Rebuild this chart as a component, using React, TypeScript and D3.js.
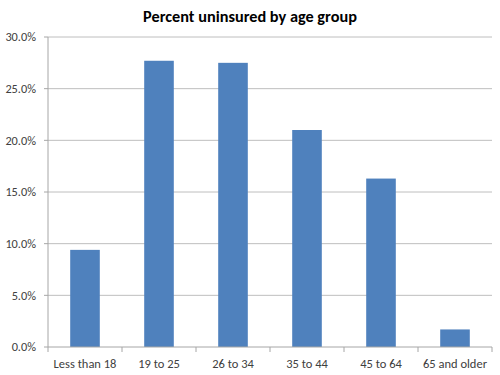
import React from "react";
import * as d3 from "d3";

const categories = ["Less than 18", "19 to 25", "26 to 34", "35 to 44", "45 to 64", "65 and older"];
const values = [9.4, 27.7, 27.5, 21.0, 16.3, 1.7];
const yTicks = [0, 5, 10, 15, 20, 25, 30];
const title = "Percent uninsured by age group";

export default function App() {
  const W = 500, H = 375;
  const left = 48, right = 492, top = 37, bottom = 347;
  const x = d3.scaleBand<string>().domain(categories).range([left, right]).paddingInner(0.6).paddingOuter(0.3);
  const xOuter = d3.scaleBand<string>().domain(categories).range([left, right]);
  const y = d3.scaleLinear().domain([0, 30]).range([bottom, top]);
  const font = "Carlito, Calibri, 'Open Sans', 'Liberation Sans', sans-serif";
  return (
    <svg width={W} height={H} style={{ position: "absolute", left: 0, top: 0, background: "#fff" }} fontFamily={font}>
      <text x={W / 2} y={22} textAnchor="middle" fontSize={16.3} fontWeight="bold" fill="#000">{title}</text>
      {yTicks.map((t) => (
        <g key={t}>
          {t > 0 && <line x1={left} x2={right} y1={y(t)} y2={y(t)} stroke="#BEBEBE" strokeWidth={1} />}
          <line x1={left - 4} x2={left} y1={y(t)} y2={y(t)} stroke="#A6A6A6" />
          <text x={left - 12} y={y(t)} dy="0.35em" textAnchor="end" fontSize={12.3} fill="#404040">{t.toFixed(1)}%</text>
        </g>
      ))}
      <line x1={left} x2={left} y1={top} y2={bottom} stroke="#A6A6A6" />
      {values.map((v, i) => (
        <rect key={i} x={x(categories[i])} y={y(v)} width={x.bandwidth()} height={y(0) - y(v)} fill="#4F81BD" />
      ))}
      <line x1={left} x2={right} y1={bottom} y2={bottom} stroke="#A6A6A6" />
      {categories.map((c, i) => (
        <g key={c}>
          <line x1={(xOuter(c) as number) + xOuter.bandwidth()} x2={(xOuter(c) as number) + xOuter.bandwidth()} y1={bottom} y2={bottom + 5} stroke="#A6A6A6" />
          {i === 0 && <line x1={left} x2={left} y1={bottom} y2={bottom + 5} stroke="#A6A6A6" />}
          <text x={(xOuter(c) as number) + xOuter.bandwidth() / 2} y={bottom + 17} dy="0.35em" textAnchor="middle" fontSize={12.5} fill="#404040">{c}</text>
        </g>
      ))}
    </svg>
  );
}
